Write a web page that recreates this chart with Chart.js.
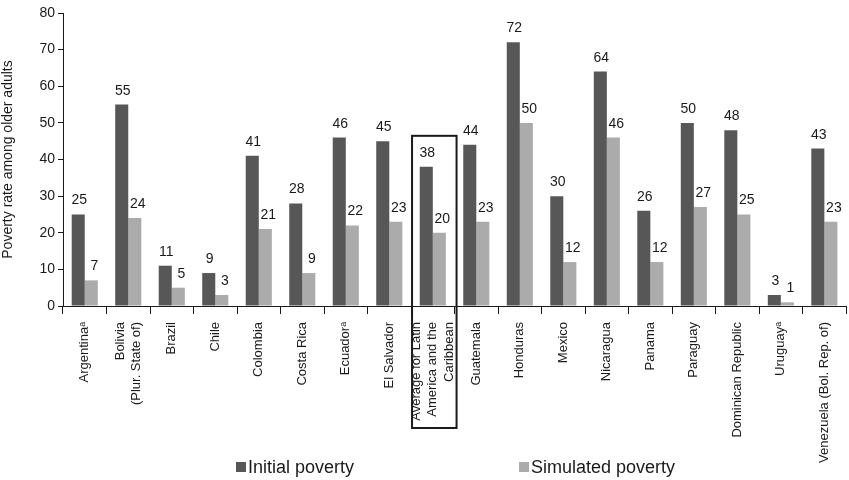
<!DOCTYPE html>
<html>
<head>
<meta charset="utf-8">
<script src="https://cdn.jsdelivr.net/npm/chart.js@4"></script>
<style>
  html, body { margin: 0; padding: 0; background: #fff; }
  canvas { display: block; }
</style>
</head>
<body>
<canvas id="c" width="849" height="480"></canvas>
<script>
const categories = [
  "Argentina\u1D43",
  ["Bolivia", "(Plur. State of)"],
  "Brazil",
  "Chile",
  "Colombia",
  "Costa Rica",
  "Ecuador\u1D43",
  "El Salvador",
  ["Average for Latin", "America and the", "Caribbean"],
  "Guatemala",
  "Honduras",
  "Mexico",
  "Nicaragua",
  "Panama",
  "Paraguay",
  "Dominican Republic",
  "Uruguay\u1D43",
  "Venezuela (Bol. Rep. of)"
];
const seriesNames = ["Initial poverty", "Simulated poverty"];
const initialPoverty = [25, 55, 11, 9, 41, 28, 46, 45, 38, 44, 72, 30, 64, 26, 50, 48, 3, 43];
const simulatedPoverty = [7, 24, 5, 3, 21, 9, 22, 23, 20, 23, 50, 12, 46, 12, 27, 25, 1, 23];
const yTicks = [0, 10, 20, 30, 40, 50, 60, 70, 80];
const yTitle = "Poverty rate among older adults";
const highlightIndex = 8;

const FONT = "'Liberation Sans', Arial, Helvetica, sans-serif";
const TXT = "#1a1a1a";
const DARK = "#575757";
const LIGHT = "#ababab";

const xLabelFont = { family: FONT, size: 13, lineHeight: 1.28 };

const centerLinesPlugin = {
  id: "centerLines",
  beforeDraw(chart) {
    const sc = chart.scales.x;
    const items = sc.getLabelItems();
    items.forEach(it => {
      const n = Array.isArray(it.label) ? it.label.length : 1;
      const lh = it.font.lineHeight;
      it.textOffset = lh / 2 - (n - 1) * lh / 2;
    });
  }
};

const valueLabelPlugin = {
  id: "valueLabels",
  afterDatasetsDraw(chart) {
    const ctx = chart.ctx;
    ctx.save();
    ctx.font = "14px " + FONT;
    ctx.fillStyle = TXT;
    ctx.textAlign = "center";
    ctx.textBaseline = "alphabetic";
    chart.data.datasets.forEach((ds, di) => {
      const meta = chart.getDatasetMeta(di);
      meta.data.forEach((bar, i) => {
        const dx = di === 0 ? 1 : 3;
        ctx.fillText(String(ds.data[i]), bar.x + dx, bar.y - 10);
      });
    });
    ctx.restore();
  }
};

const boxAndLegendPlugin = {
  id: "boxLegend",
  afterDraw(chart) {
    const ctx = chart.ctx;
    const x = chart.scales.x, y = chart.scales.y;
    // highlight box around the regional average
    const cw = x.width / categories.length;
    const cx = x.getPixelForValue(highlightIndex);
    const left = cx - cw / 2 + 1;
    const right = cx + cw / 2 + 2;
    const top = y.getPixelForValue(initialPoverty[highlightIndex]) - 31;
    const bottom = 428;
    ctx.save();
    ctx.strokeStyle = "#1a1a1a";
    ctx.lineWidth = 2;
    ctx.strokeRect(left, top, right - left, bottom - top);
    ctx.restore();

    // legend
    ctx.save();
    ctx.font = "18px " + FONT;
    ctx.textBaseline = "alphabetic";
    ctx.textAlign = "left";
    const legendX = [236, 519];
    chart.data.datasets.forEach((ds, di) => {
      ctx.fillStyle = ds.backgroundColor;
      ctx.fillRect(legendX[di], 462, 10, 10);
      ctx.fillStyle = TXT;
      ctx.fillText(ds.label, legendX[di] + 12, 473);
    });
    ctx.restore();
  }
};

new Chart(document.getElementById("c"), {
  type: "bar",
  data: {
    labels: categories,
    datasets: [
      { label: seriesNames[0], data: initialPoverty, backgroundColor: DARK, borderWidth: 0 },
      { label: seriesNames[1], data: simulatedPoverty, backgroundColor: LIGHT, borderWidth: 0 }
    ]
  },
  options: {
    responsive: false,
    devicePixelRatio: 1,
    animation: false,
    layout: { padding: { top: 13, right: 0, left: 0, bottom: 0 } },
    datasets: { bar: { categoryPercentage: 0.6, barPercentage: 1.0 } },
    plugins: {
      legend: { display: false },
      tooltip: { enabled: false }
    },
    scales: {
      x: {
        offset: true,
        afterFit(scale) { scale.height = 174; },
        grid: {
          offset: true,
          drawOnChartArea: false,
          drawTicks: true,
          tickLength: 8,
          color: "#1a1a1a",
          lineWidth: 1
        },
        border: { display: true, color: "#1a1a1a", width: 1 },
        ticks: {
          autoSkip: false,
          minRotation: 90,
          maxRotation: 90,
          padding: 8,
          color: TXT,
          font: xLabelFont
        }
      },
      y: {
        min: 0,
        max: 80,
        afterFit(scale) { scale.width = 63; },
        afterBuildTicks(scale) { scale.ticks = yTicks.map(v => ({ value: v })); },
        grid: {
          drawOnChartArea: false,
          drawTicks: true,
          tickLength: 5,
          color: "#1a1a1a"
        },
        border: { display: true, color: "#1a1a1a", width: 1 },
        ticks: {
          padding: 3,
          color: TXT,
          font: { family: FONT, size: 14 }
        },
        title: {
          display: true,
          text: yTitle,
          color: TXT,
          font: { family: FONT, size: 14 },
          padding: { top: 0, bottom: 4 }
        }
      }
    }
  },
  plugins: [centerLinesPlugin, valueLabelPlugin, boxAndLegendPlugin]
});
</script>
</body>
</html>
